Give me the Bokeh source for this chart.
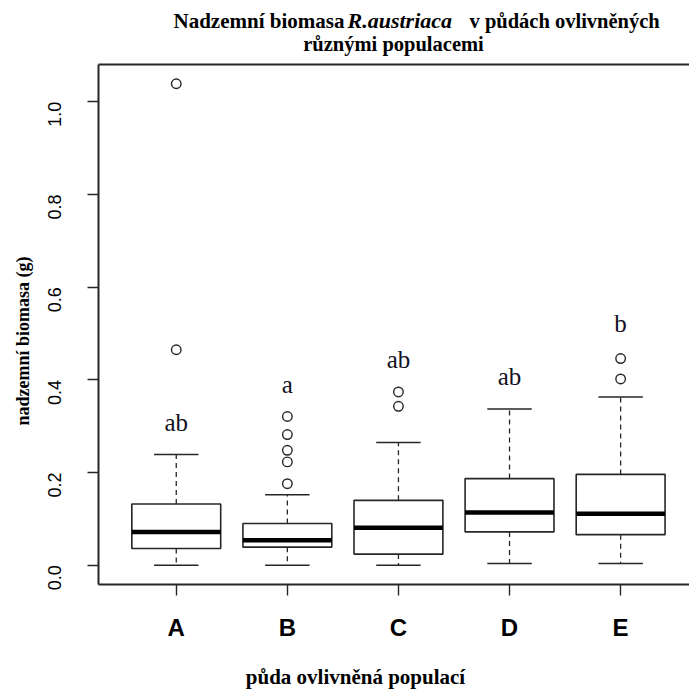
import math

from bokeh.core.properties import value
from bokeh.embed import file_html
from bokeh.layouts import column
from bokeh.models import (ColumnDataSource, FixedTicker, LinearAxis,
                          PrintfTickFormatter, Range1d, Title)
from bokeh.plotting import figure
from bokeh.resources import INLINE

# --- data: above-ground biomass (g) per soil population -------------------
populations = ["A", "B", "C", "D", "E"]
lower_whisker = [0.000, 0.000, 0.000, 0.004, 0.004]
q1 = [0.036, 0.039, 0.024, 0.072, 0.066]
median = [0.072, 0.054, 0.081, 0.114, 0.111]
q3 = [0.132, 0.090, 0.140, 0.187, 0.196]
upper_whisker = [0.239, 0.152, 0.265, 0.337, 0.363]
outliers_A = [0.465, 1.039]
outliers_B = [0.176, 0.223, 0.248, 0.282, 0.321]
outliers_C = [0.343, 0.374]
outliers_D = []
outliers_E = [0.402, 0.446]
group_letters = ["ab", "a", "ab", "ab", "b"]
letter_heights = [0.289, 0.371, 0.424, 0.388, 0.502]
y_ticks = [0.0, 0.2, 0.4, 0.6, 0.8, 1.0]

outlier_lists = [outliers_A, outliers_B, outliers_C, outliers_D, outliers_E]
xs = [i + 1 for i in range(len(populations))]

# y range like R: data range padded by 4 %
all_vals = lower_whisker + upper_whisker + [v for o in outlier_lists for v in o]
lo, hi = min(all_vals), max(all_vals)
pad = 0.04 * (hi - lo)

SERIF = "Liberation Serif"
SANS = "Liberation Sans"
FRAME = "#262626"
W = 689
HEAD_H = 62
FOOT_H = 40
MAIN_H = 691 - HEAD_H - FOOT_H


def text_strip(height):
    """Axis-free strip in pixel coordinates (y grows downwards)."""
    f = figure(width=W, height=height, output_backend="svg", toolbar_location=None,
               x_range=Range1d(0, W), y_range=Range1d(height, 0),
               x_axis_type=None, y_axis_type=None, min_border=0)
    f.frame_align = False
    f.outline_line_color = None
    f.grid.visible = False
    return f


# --- title strip (two lines, species name in italics) ----------------------
head = text_strip(HEAD_H)
title_style = dict(text_font=value(SERIF), text_baseline="alphabetic",
                   text_color="black", y_offset=-7)
head.text(x=[173], y=[27], text=["Nadzemní biomasa "], text_align="left",
          text_font_style="bold", text_font_size="21px", **title_style)
head.text(x=[347], y=[27], text=["R.austriaca"], text_align="left",
          text_font_style="bold italic", text_font_size="22px", **title_style)
head.text(x=[469], y=[27], text=["v půdách ovlivněných"], text_align="left",
          text_font_style="bold", text_font_size="20.5px", **title_style)
head.text(x=[393], y=[50], text=["různými populacemi"], text_align="center",
          text_font_style="bold", text_font_size="20.5px", **title_style)

# --- main box plot ----------------------------------------------------------
p = figure(width=W, height=MAIN_H, output_backend="svg", toolbar_location=None,
           x_range=Range1d(0.3, 5.62), y_range=Range1d(lo - pad, hi + pad),
           min_border_left=98, min_border_right=0, min_border_top=64 - HEAD_H,
           min_border_bottom=MAIN_H + HEAD_H - 584)
p.frame_align = False
p.outline_line_color = None
p.grid.visible = False

box_src = ColumnDataSource(dict(x=xs, q1=q1, q3=q3, med=median,
                                lw=lower_whisker, uw=upper_whisker,
                                left=[x - 0.4 for x in xs], right=[x + 0.4 for x in xs],
                                cl=[x - 0.2 for x in xs], cr=[x + 0.2 for x in xs]))
p.segment(x0="x", y0="q3", x1="x", y1="uw", source=box_src, line_color=FRAME,
          line_width=1.3, line_dash="5 4")
p.segment(x0="x", y0="q1", x1="x", y1="lw", source=box_src, line_color=FRAME,
          line_width=1.3, line_dash="5 4")
p.segment(x0="cl", y0="uw", x1="cr", y1="uw", source=box_src, line_color=FRAME,
          line_width=1.5)
p.segment(x0="cl", y0="lw", x1="cr", y1="lw", source=box_src, line_color=FRAME,
          line_width=1.5)
p.quad(left="left", right="right", bottom="q1", top="q3", source=box_src,
       fill_color="white", line_color=FRAME, line_width=1.6)
p.segment(x0="left", y0="med", x1="right", y1="med", source=box_src,
          line_color="black", line_width=4.5)

# outliers
ox = [xs[i] for i, o in enumerate(outlier_lists) for _ in o]
oy = [v for o in outlier_lists for v in o]
p.scatter(ox, oy, marker="circle", size=9.5, fill_color=None, line_color=FRAME,
          line_width=1.4)

# significance letters (y = baseline height)
p.text(x=xs, y=letter_heights, text=group_letters, text_align="center",
       text_baseline="alphabetic", text_font=value(SERIF), y_offset=-9,
       text_font_size="25px", text_color="#111122")

# axes
p.yaxis.ticker = FixedTicker(ticks=y_ticks)
p.yaxis.formatter = PrintfTickFormatter(format="%.1f")
p.yaxis.major_label_orientation = math.pi / 2
p.yaxis.major_label_text_font = SANS
p.yaxis.major_label_text_font_size = "18px"
p.yaxis.major_label_standoff = 33

p.xaxis.ticker = FixedTicker(ticks=xs)
p.xaxis.major_label_overrides = {x: name for x, name in zip(xs, populations)}
p.xaxis.major_label_text_font = SANS
p.xaxis.major_label_text_font_style = "bold"
p.xaxis.major_label_text_font_size = "24px"
p.xaxis.major_label_standoff = 18

for ax in (p.xaxis[0], p.yaxis[0]):
    ax.axis_line_color = FRAME
    ax.axis_line_width = 2
    ax.major_tick_line_color = FRAME
    ax.major_tick_line_width = 1.4
    ax.major_tick_out = 11
    ax.major_tick_in = 0
    ax.minor_tick_line_color = None
    ax.major_label_text_color = "black"

top_edge = LinearAxis(ticker=FixedTicker(ticks=[]), axis_line_color=FRAME,
                      axis_line_width=2, major_tick_line_color=None,
                      minor_tick_line_color=None, major_label_text_font_size="0px")
p.add_layout(top_edge, "above")

p.add_layout(Title(text="nadzemní biomasa (g)", align="left", offset=159,
                   text_font=SERIF, text_font_size="18px", text_font_style="bold",
                   text_color="black", standoff=12), "left")

# --- x-axis title strip ------------------------------------------------------
foot = text_strip(FOOT_H)
foot.text(x=[355], y=[683 - (691 - FOOT_H)], text=["půda ovlivněná populací"],
          text_align="center", text_baseline="alphabetic", y_offset=-7,
          text_font=value(SERIF), text_font_size="21px", text_font_style="bold",
          text_color="black")

with open("out.html", "w") as f:
    f.write(file_html(column(head, p, foot, spacing=0), INLINE))
